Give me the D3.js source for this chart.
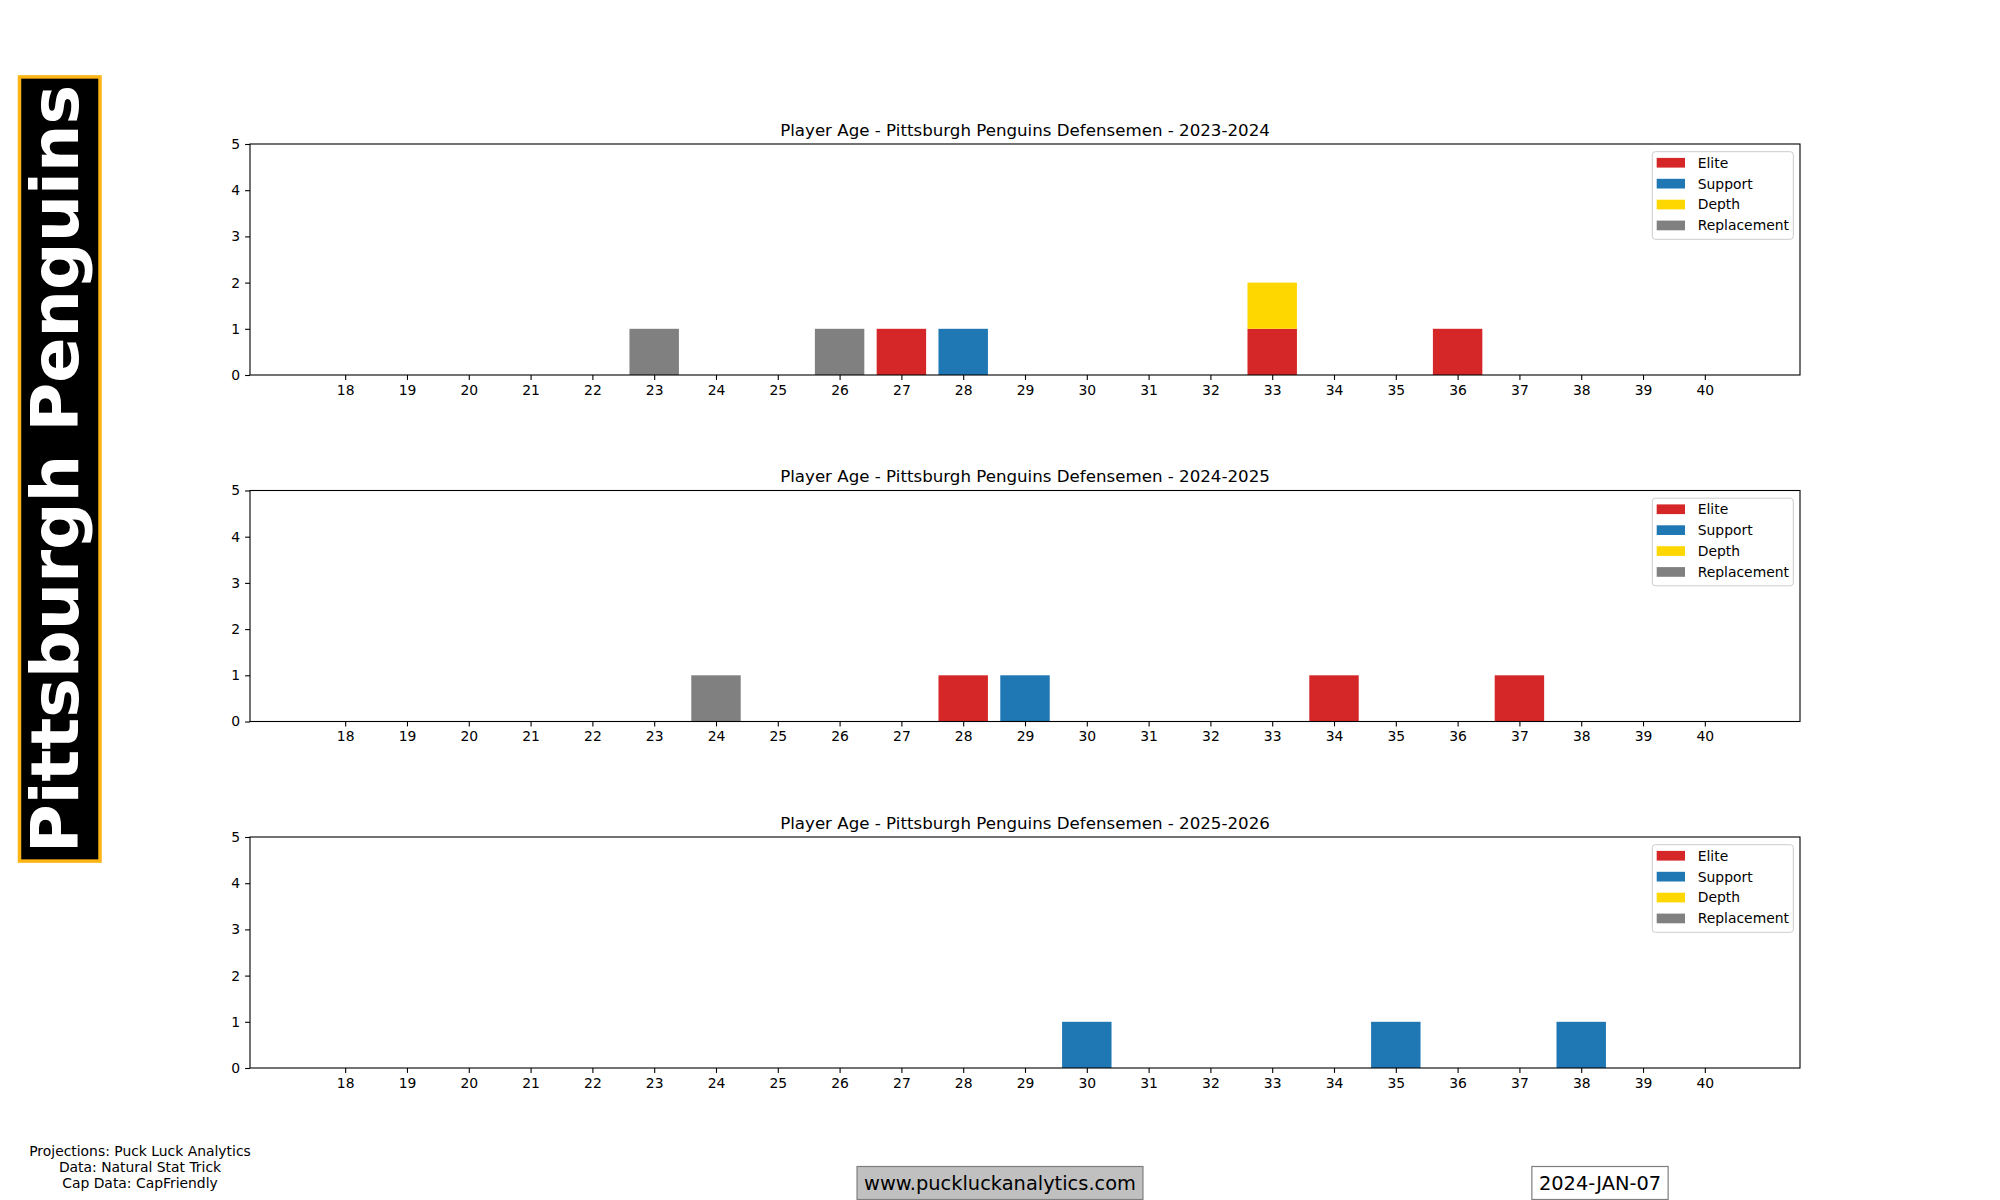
<!DOCTYPE html>
<html>
<head>
<meta charset="utf-8">
<script src="https://cdn.jsdelivr.net/npm/d3@7"></script>
<style>
  body { margin: 0; background: #fff; }
  text { font-family: "DejaVu Sans", sans-serif; }
</style>
</head>
<body>
<script>
// ages on the x axis (tick labels)
var ages = [18,19,20,21,22,23,24,25,26,27,28,29,30,31,32,33,34,35,36,37,38,39,40];
var yTicks = [0,1,2,3,4,5];
var seasons = ["2023-2024","2024-2025","2025-2026"];
var tiers = ["Elite","Support","Depth","Replacement"];
var tierColors = ["#d62728","#1f77b4","#ffd700","#808080"];

// player counts per age, one array per tier and season
var elite2324       = [0,0,0,0,0,0,0,0,0,1,0,0,0,0,0,1,0,0,1,0,0,0,0];
var support2324     = [0,0,0,0,0,0,0,0,0,0,1,0,0,0,0,0,0,0,0,0,0,0,0];
var depth2324       = [0,0,0,0,0,0,0,0,0,0,0,0,0,0,0,1,0,0,0,0,0,0,0];
var replacement2324 = [0,0,0,0,0,1,0,0,1,0,0,0,0,0,0,0,0,0,0,0,0,0,0];

var elite2425       = [0,0,0,0,0,0,0,0,0,0,1,0,0,0,0,0,1,0,0,1,0,0,0];
var support2425     = [0,0,0,0,0,0,0,0,0,0,0,1,0,0,0,0,0,0,0,0,0,0,0];
var depth2425       = [0,0,0,0,0,0,0,0,0,0,0,0,0,0,0,0,0,0,0,0,0,0,0];
var replacement2425 = [0,0,0,0,0,0,1,0,0,0,0,0,0,0,0,0,0,0,0,0,0,0,0];

var elite2526       = [0,0,0,0,0,0,0,0,0,0,0,0,0,0,0,0,0,0,0,0,0,0,0];
var support2526     = [0,0,0,0,0,0,0,0,0,0,0,0,1,0,0,0,0,1,0,0,1,0,0];
var depth2526       = [0,0,0,0,0,0,0,0,0,0,0,0,0,0,0,0,0,0,0,0,0,0,0];
var replacement2526 = [0,0,0,0,0,0,0,0,0,0,0,0,0,0,0,0,0,0,0,0,0,0,0];

var seasonSeries = [
  [elite2324, support2324, depth2324, replacement2324],
  [elite2425, support2425, depth2425, replacement2425],
  [elite2526, support2526, depth2526, replacement2526]
];

var W = 2000, H = 1200;
var left = 250, right = 1800, axH = 231, gap = 115.5, top0 = 144;
var barW = 0.8;

var svg = d3.select("body").append("svg")
  .attr("width", W).attr("height", H);

// x scale: bar extent plus 5% margins like matplotlib
var lo = d3.min(ages) - barW/2, hi = d3.max(ages) + barW/2, m = (hi - lo) * 0.05;
var x = d3.scaleLinear().domain([lo - m, hi + m]).range([left, right]);
var y = d3.scaleLinear().domain([0, 5]).range([axH, 0]);
var bw = x(barW) - x(0);

seasonSeries.forEach(function(series, si) {
  var g = svg.append("g").attr("transform", "translate(0," + (top0 + si * (axH + gap)) + ")");

  var rows = ages.map(function(a, i) {
    var r = {age: a};
    tiers.forEach(function(t, ti) { r[t] = series[ti][i]; });
    return r;
  });
  var stacked = d3.stack().keys(tiers)(rows);

  g.selectAll("g.layer").data(stacked).enter().append("g")
    .attr("fill", function(d, i) { return tierColors[i]; })
    .selectAll("rect").data(function(d) { return d; }).enter().append("rect")
    .attr("x", function(d) { return x(d.data.age) - bw/2; })
    .attr("width", bw)
    .attr("y", function(d) { return y(d[1]); })
    .attr("height", function(d) { return y(d[0]) - y(d[1]); });

  var xa = g.append("g").attr("transform", "translate(0," + axH + ")")
    .call(d3.axisBottom(x).tickValues(ages).tickFormat(d3.format("d")).tickSize(4.9).tickPadding(4.9));
  var ya = g.append("g").attr("transform", "translate(" + left + ",0)")
    .call(d3.axisLeft(y).tickValues(yTicks).tickFormat(d3.format("d")).tickSize(4.9).tickPadding(4.9));
  [xa, ya].forEach(function(a) {
    a.select(".domain").remove();
    a.selectAll("line").attr("stroke", "#000").attr("stroke-width", 1.1);
    a.selectAll("text").attr("font-size", "13.9px").attr("fill", "#000")
      .style("font-family", "DejaVu Sans");
  });

  g.append("rect").attr("x", left).attr("y", 0).attr("width", right - left).attr("height", axH)
    .attr("fill", "none").attr("stroke", "#000").attr("stroke-width", 1.1);

  g.append("text").attr("x", (left + right) / 2).attr("y", -8.5)
    .attr("text-anchor", "middle").attr("font-size", "16.67px")
    .text("Player Age - Pittsburgh Penguins Defensemen - " + seasons[si]);

  // legend
  var lg = g.append("g").attr("transform", "translate(" + (right - 147.7) + ",7.7)");
  lg.append("rect").attr("width", 141).attr("height", 87.6).attr("rx", 3)
    .attr("fill", "#fff").attr("fill-opacity", 0.8).attr("stroke", "#cccccc").attr("stroke-width", 1);
  tiers.forEach(function(t, i) {
    var ry = 11 + i * 20.9;
    lg.append("rect").attr("x", 4.4).attr("y", ry - 4.8).attr("width", 28.3).attr("height", 9.7)
      .attr("fill", tierColors[i]);
    lg.append("text").attr("x", 45.4).attr("y", ry + 5).attr("font-size", "13.9px").text(t);
  });
});

// team banner on the left
var banner = svg.append("g");
var bt = banner.append("text")
  .attr("transform", "translate(78,469) rotate(-90)")
  .attr("text-anchor", "middle")
  .attr("font-size", "66.67px").attr("font-weight", "bold").attr("fill", "#fff")
  .text("Pittsburgh Penguins");
var bb = bt.node().getBBox();
banner.insert("rect", "text")
  .attr("x", 19.5).attr("width", 80.5)
  .attr("y", 469 - bb.width / 2 - 8).attr("height", bb.width + 16)
  .attr("fill", "#000").attr("stroke", "#fdb515").attr("stroke-width", 3.5);

// footer
var credits = ["Projections: Puck Luck Analytics", "Data: Natural Stat Trick", "Cap Data: CapFriendly"];
svg.append("g").selectAll("text").data(credits).enter().append("text")
  .attr("x", 140).attr("y", function(d, i) { return 1156 + i * 16.2; })
  .attr("text-anchor", "middle").attr("font-size", "13.9px").text(function(d) { return d; });

function boxedLabel(cx, cy, label, fill) {
  var gg = svg.append("g");
  var t = gg.append("text").attr("x", cx).attr("y", cy).attr("text-anchor", "middle")
    .attr("dominant-baseline", "central").attr("font-size", "19.4px").text(label);
  var b = t.node().getBBox();
  gg.insert("rect", "text").attr("x", b.x - 7).attr("y", cy - 16.5).attr("width", b.width + 14).attr("height", 33)
    .attr("fill", fill).attr("stroke", "#7f7f7f").attr("stroke-width", 1.2);
}
boxedLabel(1000, 1183, "www.puckluckanalytics.com", "#c0c0c0");
boxedLabel(1600, 1183, "2024-JAN-07", "#ffffff");
</script>
</body>
</html>
